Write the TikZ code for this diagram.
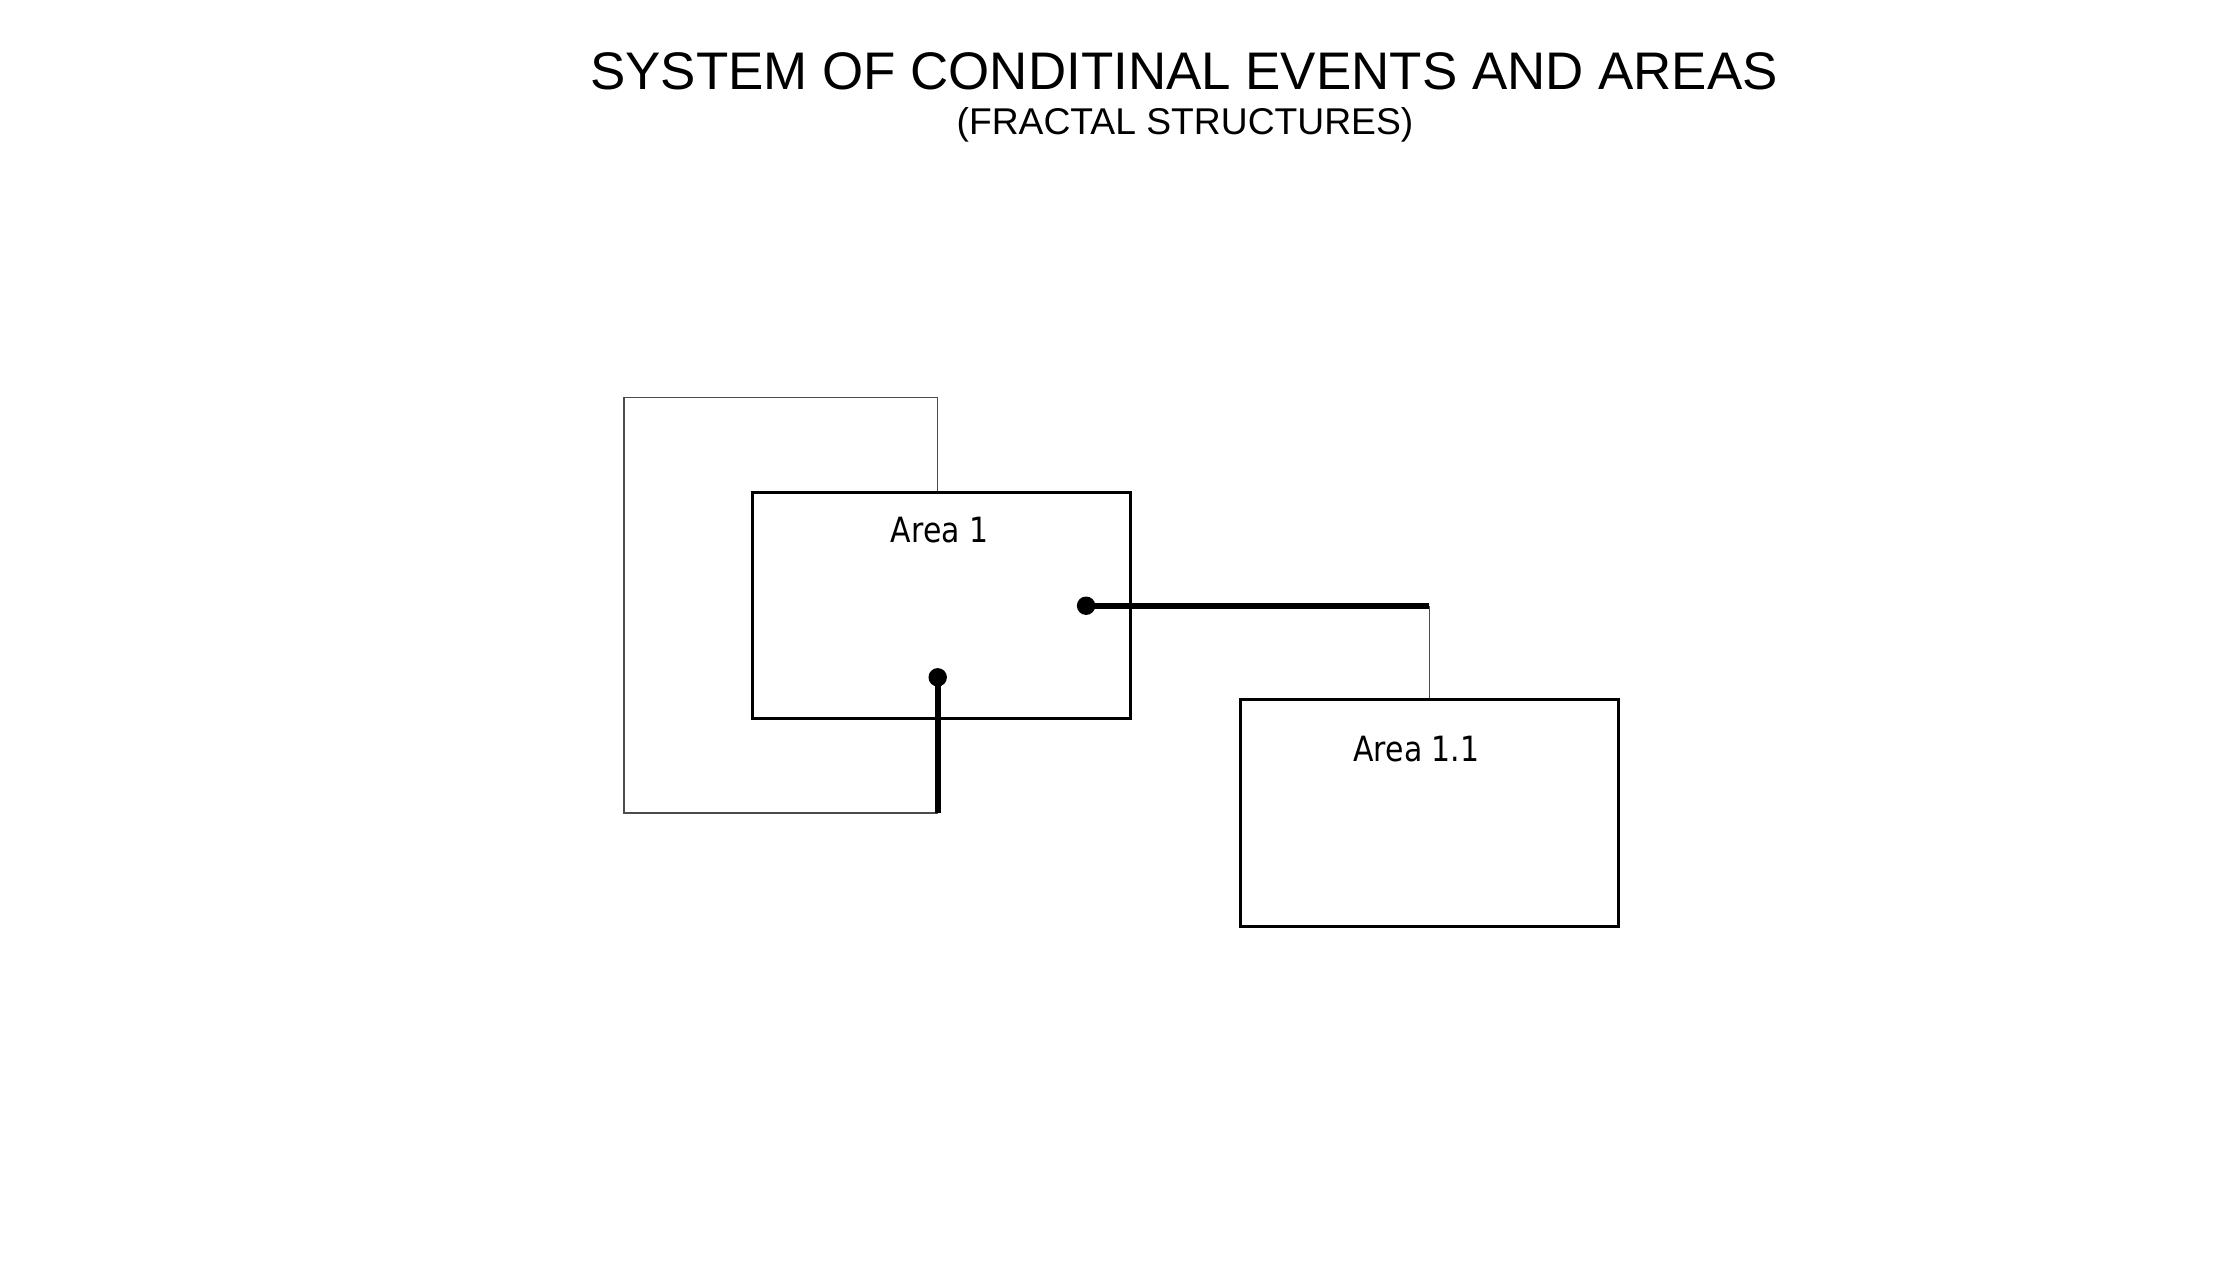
\documentclass[tikz,border=0pt]{standalone}
\usepackage{fontspec}
\setmainfont{Liberation Sans}
\newfontfamily\areafont{DejaVu Sans}
\usetikzlibrary{positioning,calc}

\newcommand{\arealabel}[1]{\scalebox{0.86}[1]{\areafont #1}}

\begin{document}
\begin{tikzpicture}[
    areabox/.style={draw, line width=0.9pt, minimum width=3.78cm, minimum height=2.26cm, inner sep=0pt},
    bus/.style={-, line width=1.6pt},
    thinlink/.style={-, line width=0.45pt, black!70},
]
    \useasboundingbox (0,0) rectangle (22.30,-12.66);

    \node[anchor=base, font=\fontsize{15.05}{18}\selectfont] (title) at (11.84,-0.893) {SYSTEM OF CONDITINAL EVENTS AND AREAS};
    \node[anchor=base, font=\fontsize{10.6}{12}\selectfont] (subtitle) at (11.85,-1.34) {(FRACTAL STRUCTURES)};

    \node[areabox] (area1) at (9.415,-6.053) {};
    \node[areabox, minimum height=2.274cm] (area11) at (14.294,-8.13) {};
    \node[anchor=base, font=\fontsize{9.9}{12}\selectfont] (lab1) at (9.396,-5.423) {\arealabel{Area 1}};
    \node[anchor=base, font=\fontsize{9.9}{12}\selectfont] (lab11) at (14.165,-7.61) {\arealabel{Area 1.1}};

    \coordinate (dotE) at (10.861,-6.057);
    \coordinate (dotS) at (9.377,-6.773);
    \coordinate (tapS) at (9.377,-8.127);
    \coordinate (loopW) at (6.241,-3.973);
    \coordinate (link) at (area11.north |- dotE);

%    loop round area 1
    \draw[thinlink] (tapS |- area1.north) |- (loopW) |- (tapS);
    \draw[bus] (dotS) -- (tapS);

%    link to area 1.1
    \draw[bus] (dotE) -- (link);
    \draw[thinlink] (link) -- (area11.north);

    \filldraw[black] (dotE) circle (0.085cm);
    \filldraw[black] (dotS) circle (0.085cm);

\end{tikzpicture}
\end{document}
